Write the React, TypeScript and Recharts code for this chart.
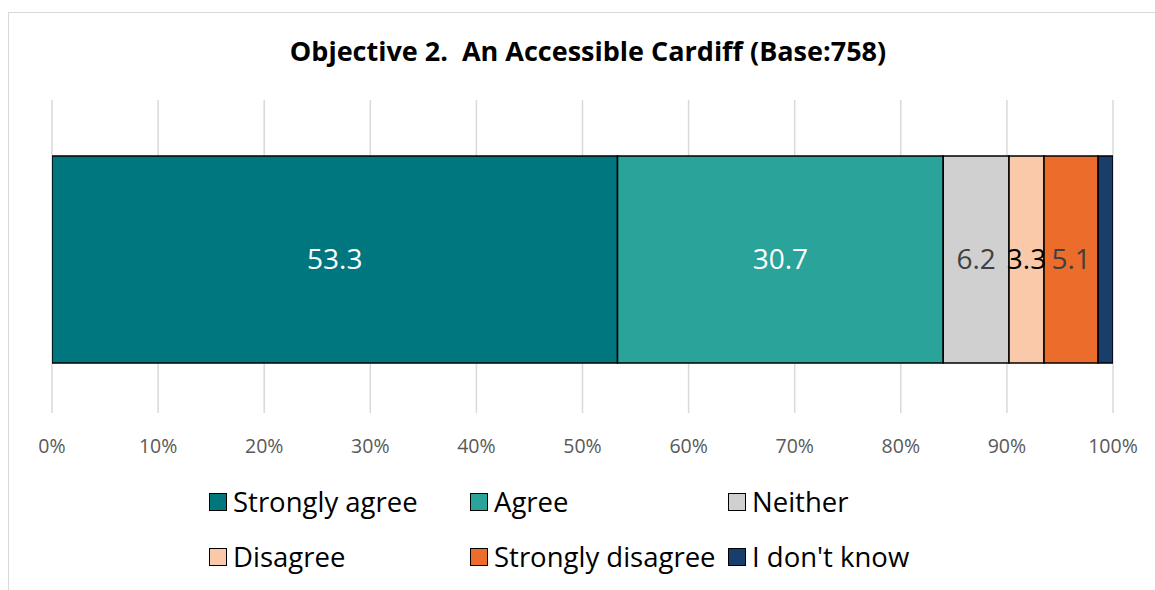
import { BarChart, Bar, XAxis, YAxis, CartesianGrid, LabelList } from 'recharts';

const categories = ['Objective 2'];
const stronglyAgree = [53.3];
const agree = [30.7];
const neither = [6.2];
const disagree = [3.3];
const stronglyDisagree = [5.1];
const dontKnow = [1.4];
const xTicks = [0, 10, 20, 30, 40, 50, 60, 70, 80, 90, 100];

const series = [
    { key: 'sa', name: 'Strongly agree', color: '#00777f', label: '#ffffff', values: stronglyAgree },
    { key: 'ag', name: 'Agree', color: '#2aa39a', label: '#ffffff', values: agree },
    { key: 'ne', name: 'Neither', color: '#d0d0d0', label: '#404040', values: neither },
    { key: 'di', name: 'Disagree', color: '#f9c9a9', label: '#000000', values: disagree },
    { key: 'sd', name: 'Strongly disagree', color: '#ec6c2c', label: '#404040', values: stronglyDisagree },
    { key: 'dk', name: "I don't know", color: '#1a3e6a', label: null, values: dontKnow },
];

const data = categories.map((c, i) => {
    const row: Record<string, any> = { name: c };
    series.forEach((s) => { row[s.key] = s.values[i]; });
    return row;
});

const FONT = '"Open Sans", Lato, sans-serif';

function LegendGrid() {
    const cols = [209, 470, 728];
    return (
        <div style={{ position: 'absolute', left: 0, top: 484, width: 1155, height: 100 }}>
            {series.map((s, i) => (
                <div
                    key={s.key}
                    style={{
                        position: 'absolute',
                        left: cols[i % 3],
                        top: Math.floor(i / 3) * 55,
                        display: 'flex',
                        alignItems: 'center',
                        fontFamily: FONT,
                        fontSize: 27.5,
                        lineHeight: '36px',
                        color: '#000',
                        whiteSpace: 'nowrap',
                    }}
                >
                    <span style={{ width: 16, height: 16, background: s.color, border: '1.5px solid #000', marginRight: 6 }} />
                    {s.name}
                </div>
            ))}
        </div>
    );
}

export default function App() {
    return (
        <div style={{ position: 'absolute', left: 0, top: 0, width: 1155, height: 590, background: '#fff', overflow: 'hidden' }}>
            <div style={{ position: 'absolute', left: 8, top: 12, width: 1200, height: 640, border: '1.5px solid #d9d9d9' }} />
            <div style={{ position: 'absolute', left: 0, top: 32, width: 1176, textAlign: 'center', fontFamily: FONT, fontWeight: 700, fontSize: 27, color: '#000' }}>
                Objective 2.&nbsp; An Accessible Cardiff (Base:758)
            </div>
            <div style={{ position: 'absolute', left: 0, top: 0 }}>
                <BarChart
                    width={1155}
                    height={590}
                    data={data}
                    layout="vertical"
                    margin={{ top: 100, right: 42, left: 52, bottom: 147 }}
                >
                    <CartesianGrid horizontal={false} stroke="#d9d9d9" strokeWidth={1.5} />
                    <XAxis
                        type="number"
                        domain={[0, 100]}
                        ticks={xTicks}
                        tickFormatter={(v) => `${v}%`}
                        axisLine={false}
                        tickLine={false}
                        tickMargin={20}
                        tick={{ fill: '#595959', fontSize: 19.5, fontFamily: FONT }}
                        interval={0}
                        allowDataOverflow
                    />
                    <YAxis type="category" dataKey="name" hide padding={{ top: 5, bottom: 0 }} />
                    {series.map((s) => (
                        <Bar
                            key={s.key}
                            dataKey={s.key}
                            name={s.name}
                            stackId="a"
                            fill={s.color}
                            stroke="#000"
                            strokeWidth={1.5}
                            barSize={207}
                            isAnimationActive={false}
                        >
                            {s.label && (
                                <LabelList
                                    dataKey={s.key}
                                    position="center"
                                    fill={s.label}
                                    fontSize={28}
                                    fontFamily={FONT}
                                    formatter={(v: any) => Number(v).toFixed(1)}
                                />
                            )}
                        </Bar>
                    ))}
                </BarChart>
            </div>
            <LegendGrid />
        </div>
    );
}
